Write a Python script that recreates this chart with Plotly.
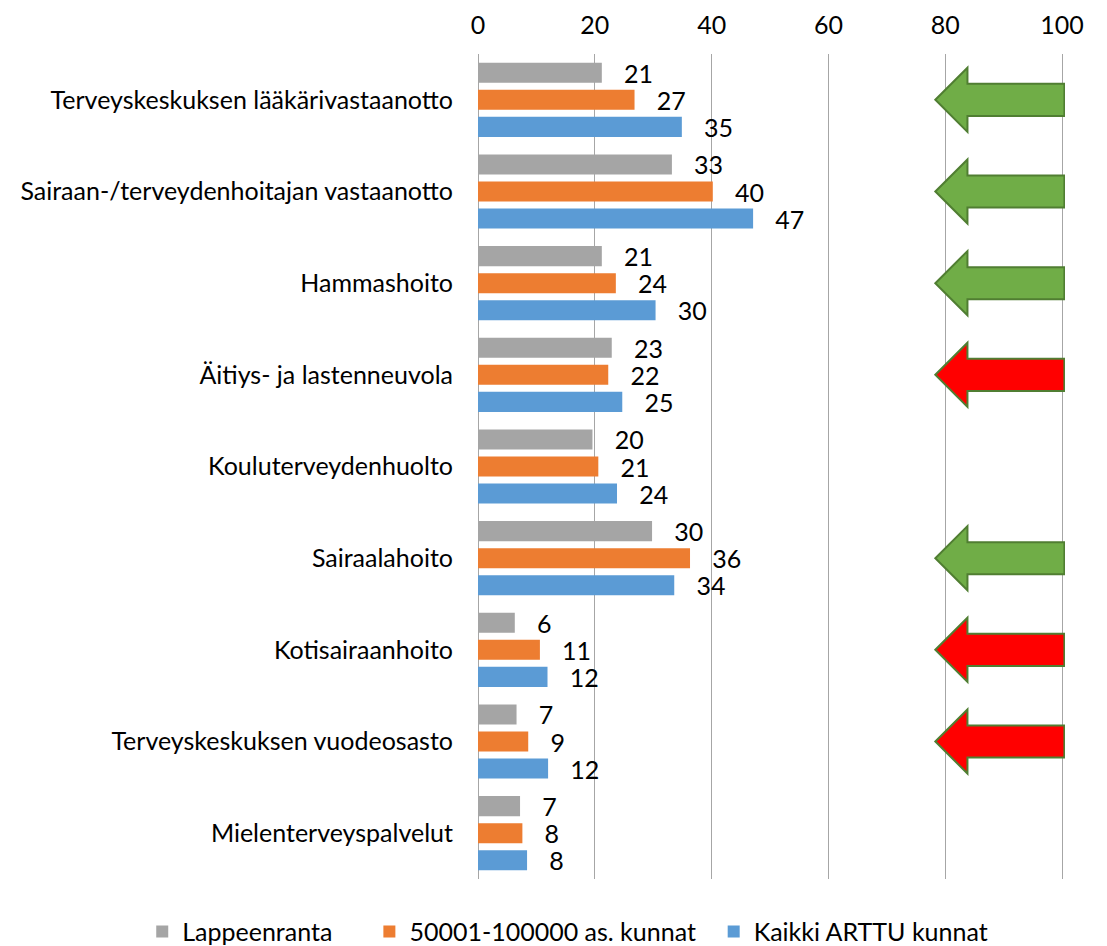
import plotly.graph_objects as go

categories = [
    "Terveyskeskuksen lääkärivastaanotto",
    "Sairaan-/terveydenhoitajan vastaanotto",
    "Hammashoito",
    "Äitiys- ja lastenneuvola",
    "Kouluterveydenhuolto",
    "Sairaalahoito",
    "Kotisairaanhoito",
    "Terveyskeskuksen vuodeosasto",
    "Mielenterveyspalvelut",
]
series_names = ["Lappeenranta", "50001-100000 as. kunnat", "Kaikki ARTTU kunnat"]
lappeenranta = [21.2, 33.2, 21.2, 22.9, 19.6, 29.8, 6.3, 6.6, 7.2]
kunnat_50k = [26.8, 40.2, 23.6, 22.3, 20.6, 36.3, 10.6, 8.6, 7.6]
arttu = [34.9, 47.1, 30.4, 24.7, 23.8, 33.6, 11.9, 12.0, 8.4]
# arrow per category: "green" / "red" / None = no arrow
arrows = ["green", "green", "green", "red", None, "green", "red", "red", None]

x_ticks = [0, 20, 40, 60, 80, 100]

colors = ["#A5A5A5", "#ED7D31", "#5B9BD5"]
FONT = "Lato"
FS = 25
NB = "\u00a0"
legend_pad = [5, 2, 0]  # trailing spacing after legend names

idx = list(range(len(categories)))

fig = go.Figure()
for name, vals, col, pad in zip(series_names, [lappeenranta, kunnat_50k, arttu], colors, legend_pad):
    fig.add_trace(go.Bar(
        x=vals, y=idx, orientation="h", name=name + NB * pad,
        marker=dict(color=col, line=dict(width=0)),
        texttemplate=NB * 3 + "%{x:.0f}", textposition="outside",
        constraintext="none",
        textfont=dict(size=FS, color="#000000", family=FONT),
        cliponaxis=False,
    ))

# arrow shapes (geometry in axis units)
tip_x, head_x, end_x = 78.3, 83.8, 100.4
head_h, shaft_h = 0.35, 0.175
fills = {"green": "#70AD47", "red": "#FF0000"}
for i, a in enumerate(arrows):
    if a is None:
        continue
    yc = i
    path = (f"M {tip_x},{yc} L {head_x},{yc - head_h} L {head_x},{yc - shaft_h} "
            f"L {end_x},{yc - shaft_h} L {end_x},{yc + shaft_h} L {head_x},{yc + shaft_h} "
            f"L {head_x},{yc + head_h} Z")
    fig.add_shape(type="path", path=path, xref="x", yref="y",
                  fillcolor=fills[a], line=dict(color="#507E32", width=2), layer="above")

fig.update_layout(
    width=1099, height=938,
    paper_bgcolor="white", plot_bgcolor="white",
    margin=dict(l=470, r=42, t=46, b=67, autoexpand=False),
    barmode="group", bargap=0.115, bargroupgap=0.26,
    font=dict(family=FONT, size=FS, color="#000000"),
    showlegend=True,
    legend=dict(orientation="h", xref="paper", yref="paper",
                x=-0.572, xanchor="left", y=-0.036, yanchor="top",
                font=dict(size=FS), traceorder="normal"),
    xaxis=dict(side="top", range=[0, 100.5], tickvals=x_ticks,
               showgrid=True, gridcolor="#A6A6A6", gridwidth=1,
               zeroline=True, zerolinecolor="#A6A6A6", zerolinewidth=1,
               showline=False, ticks="", ticklabelstandoff=14,
               automargin=False, tickfont=dict(size=FS)),
    yaxis=dict(range=[8.5, -0.5], tickvals=idx, ticktext=categories,
               showgrid=False, zeroline=False, showline=False, ticks="",
               automargin=False,
               ticklabelstandoff=24, tickfont=dict(size=FS)),
)

fig.write_html("out.html")
